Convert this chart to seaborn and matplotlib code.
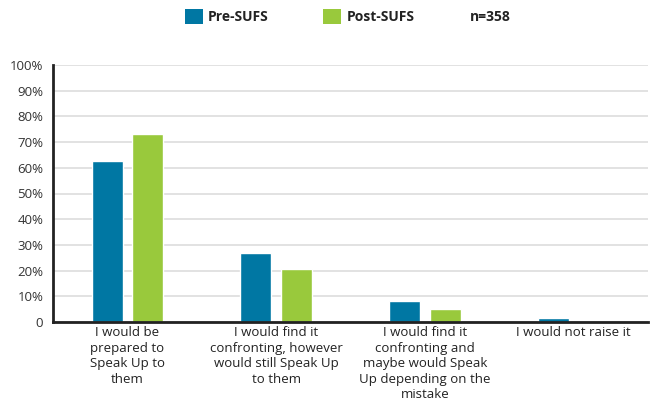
import matplotlib
matplotlib.use("Agg")
import matplotlib.pyplot as plt
import seaborn as sns
import pandas as pd
from matplotlib.patches import Patch

categories = [
    "I would be\nprepared to\nSpeak Up to\nthem",
    "I would find it\nconfronting, however\nwould still Speak Up\nto them",
    "I would find it\nconfronting and\nmaybe would Speak\nUp depending on the\nmistake",
    "I would not raise it",
]
series = ["Pre-SUFS", "Post-SUFS"]
pre_values = [62.5, 27, 8, 1.5]
post_values = [73, 20.5, 5, 0]
y_ticks = [0, 10, 20, 30, 40, 50, 60, 70, 80, 90, 100]
y_tick_labels = ["0"] + [f"{v}%" for v in y_ticks[1:]]
colors = ["#0077A3", "#99C93C"]

df = pd.DataFrame({
    "category": categories * 2,
    "series": [series[0]] * 4 + [series[1]] * 4,
    "value": pre_values + post_values,
})

sns.set_theme(style="white")
plt.rcParams["font.family"] = ["Open Sans", "DejaVu Sans"]

fig = plt.figure(figsize=(6.57, 4.12), dpi=100)
ax = fig.add_axes([53 / 657, 1 - 322 / 412, 595 / 657, 257 / 412])

sns.barplot(data=df, x="category", y="value", hue="series", order=categories,
            hue_order=series, palette=colors, width=0.545, gap=0.23,
            saturation=1, ax=ax, legend=False, zorder=3)

ax.set_ylim(0, 100)
ax.set_xlim(-0.5, 3.5)
ax.set_yticks(y_ticks)
ax.set_yticklabels(y_tick_labels, fontsize=9.5, color="#333333")
ax.tick_params(axis="x", labelsize=9.5, colors="#222222", length=0, pad=3)
ax.tick_params(axis="y", length=0, pad=7)
for lab in ax.get_xticklabels():
    lab.set_linespacing(1.25)
    lab.set_verticalalignment("top")
ax.yaxis.grid(True, color="#dddddd", linewidth=1.2, zorder=0)
ax.set_axisbelow(True)
ax.set_xlabel("")
ax.set_ylabel("")
for s in ["top", "right"]:
    ax.spines[s].set_visible(False)
for s in ["left", "bottom"]:
    ax.spines[s].set_color("#222222")
    ax.spines[s].set_linewidth(2)
    ax.spines[s].set_zorder(5)

handles = [Patch(facecolor=c, edgecolor="none") for c in colors]
leg = fig.legend(handles, series, loc="upper left",
                 bbox_to_anchor=(172 / 657, 1 + 3.5 / 412),
                 ncol=2, frameon=False, fontsize=10, handlelength=1.3,
                 handleheight=1.3, columnspacing=3.9, handletextpad=0.4)
for t in leg.get_texts():
    t.set_fontweight("bold")
    t.set_color("#222222")
fig.text(470 / 657, 1 - 17 / 412, "n=358", fontsize=10, fontweight="bold",
         color="#222222", va="center", ha="left")

fig.savefig("out.png", dpi=100)
